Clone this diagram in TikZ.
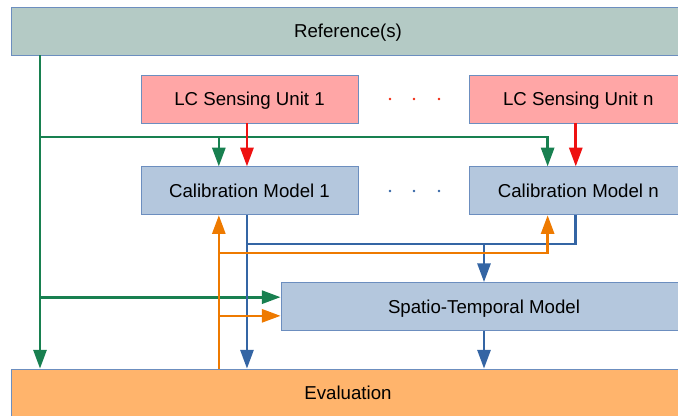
\documentclass[tikz,border=0pt]{standalone}
\usepackage{fontspec}
\setmainfont{Liberation Sans}
\usetikzlibrary{arrows.meta,calc,positioning}

\definecolor{refgreen}{HTML}{B4CAC5}
\definecolor{sensred}{HTML}{FFA6A6}
\definecolor{calblue}{HTML}{B4C7DD}
\definecolor{evalorange}{HTML}{FFB46C}
\definecolor{boxline}{HTML}{6C8EBF}
\definecolor{lgreen}{HTML}{188050}
\definecolor{lred}{HTML}{EE1111}
\definecolor{lblue}{HTML}{3465A4}
\definecolor{lorange}{HTML}{EE7A00}

\begin{document}
\begin{tikzpicture}[
     x=0.75pt, y=-0.75pt,
     align=center,
     font=\fontsize{14}{16}\selectfont,
     box/.style={rectangle,draw=boxline,line width=0.6pt,minimum height=36pt,inner sep=0pt,text height=10pt,text depth=0pt},
     unit/.style={box,fill=sensred,minimum width=162.75pt},
     model/.style={box,fill=calblue,minimum width=162.75pt},
     arr/.style={-{Triangle[length=14pt,width=9.75pt]}},
     gline/.style={draw=lgreen,line width=2pt},
     rline/.style={draw=lred,line width=2pt},
     bline/.style={draw=lblue,line width=2pt},
     oline/.style={draw=lorange,line width=2pt},
     node distance=32.25pt]

    \useasboundingbox (0,0) rectangle (678,415);

    \node[box,fill=refgreen,minimum width=505.5pt] (reference) at (348,31) {Reference(s)};

    \node[unit] (sensing1) at (249.5,99) {LC Sensing Unit 1};

    \node[unit] (sensingn) [right=83.25pt of sensing1] {LC Sensing Unit n};

    \node[model] (calib1) [below=of sensing1] {Calibration Model 1};

    \node[model] (calibn) [below=of sensingn] {Calibration Model n};

    \node[box,fill=calblue,minimum width=304.5pt] (spatio) at (484,306.5) {Spatio-Temporal Model};

    \node[box,fill=evalorange,minimum width=505.5pt] (evaluation) at (348,393) {Evaluation};

    \foreach \x in {390,414,439} {
      \fill[lred!80!orange] (\x,99) circle (1pt);
      \fill[lblue] (\x,191) circle (1pt);
    }

    \coordinate (gx) at (40,137);
    \coordinate (by) at (0,244);
    \coordinate (oy) at (0,253);
    \coordinate (in1) at ($(calib1.north)+(-23pt,0)$);
    \coordinate (inn) at ($(calibn.north)+(-23pt,0)$);
    \coordinate (mid1) at ($(calib1.north)+(-1.9pt,0)$);
    \coordinate (midn) at ($(calibn.north)+(-1.9pt,0)$);
    \coordinate (stmtop) at ([yshift=7pt]spatio.west);
    \coordinate (stmlow) at ([yshift=-7pt]spatio.west);

    % reference inputs
    \draw[gline,arr] (reference.south -| gx) -- (evaluation.north -| gx);
    \draw[gline,arr] (gx) -| (inn);
    \draw[gline,arr] (in1 |- gx) -- (in1);
    \draw[gline,arr] (gx |- stmtop) -- (stmtop);

    \draw[rline,arr] (sensing1.south -| mid1) -- (mid1);
    \draw[rline,arr] (sensingn.south -| midn) -- (midn);

    % calibrated outputs
    \draw[bline,arr] (calib1.south -| mid1) -- (evaluation.north -| mid1);
    \draw[bline] (mid1 |- by) -| (calibn.south -| midn);
    \draw[bline,arr] (spatio.north |- by) -- (spatio.north);
    \draw[bline,arr] (spatio.south) -- (evaluation.north -| spatio.south);

    % evaluation feedback
    \draw[oline,arr] (evaluation.north -| in1) -- (calib1.south -| in1);
    \draw[oline,arr] (in1 |- oy) -| (calibn.south -| inn);
    \draw[oline,arr] (in1 |- stmlow) -- (stmlow);

\end{tikzpicture}
\end{document}
